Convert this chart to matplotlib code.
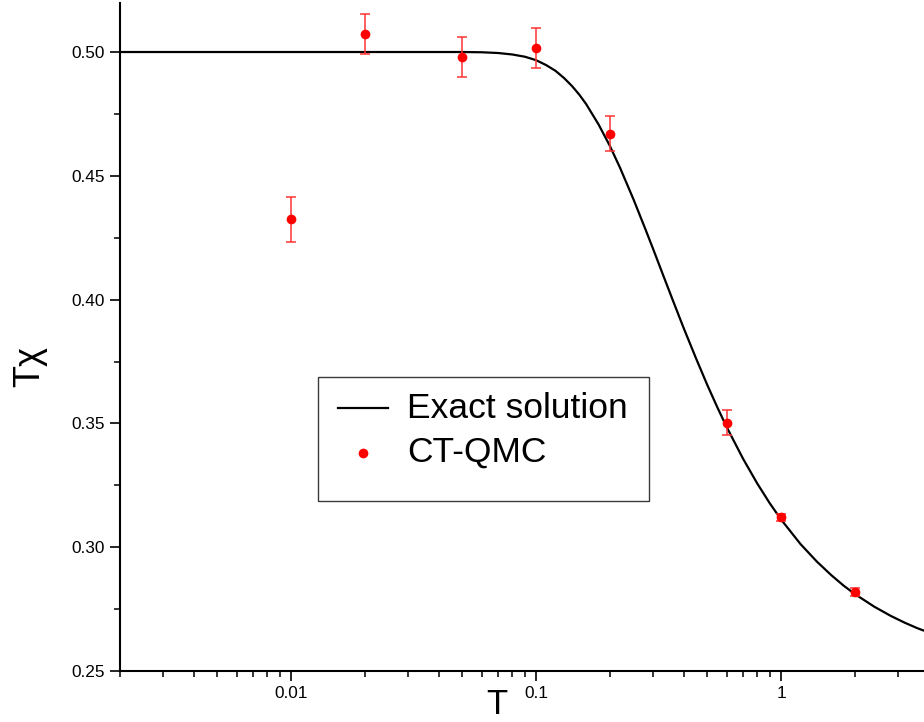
import matplotlib
matplotlib.use("Agg")
import matplotlib.pyplot as plt
from matplotlib.lines import Line2D
from matplotlib.patches import Rectangle
from matplotlib.ticker import LogLocator, FixedLocator, NullFormatter, FixedFormatter

plt.rcParams['font.family'] = ['Liberation Sans', 'DejaVu Sans']

# Exact solution curve
curve_T = [0.002, 0.01, 0.03, 0.05, 0.06, 0.07, 0.08, 0.09, 0.1, 0.11, 0.12, 0.13,
           0.14, 0.15, 0.16, 0.18, 0.2, 0.22, 0.25, 0.28, 0.3, 0.33, 0.36, 0.4,
           0.45, 0.5, 0.55, 0.6, 0.7, 0.8, 0.9, 1.0, 1.2, 1.4, 1.6, 1.8, 2.0,
           2.4, 2.8, 3.2, 3.6, 4.0]
curve_chi = [0.5000, 0.5000, 0.5000, 0.5000, 0.4999, 0.4996, 0.4990, 0.4981, 0.4967,
             0.4947, 0.4924, 0.4895, 0.4863, 0.4828, 0.4790, 0.4707, 0.4621, 0.4533,
             0.4404, 0.4282, 0.4206, 0.4099, 0.4002, 0.3886, 0.3762, 0.3655, 0.3564,
             0.3485, 0.3357, 0.3257, 0.3177, 0.3112, 0.3013, 0.2942, 0.2888, 0.2845,
             0.2811, 0.2760, 0.2723, 0.2695, 0.2673, 0.2656]

# CT-QMC data
qmc_T = [0.01, 0.02, 0.05, 0.1, 0.2, 0.6, 1.0, 2.0]
qmc_chi = [0.4324, 0.5074, 0.4981, 0.5015, 0.4670, 0.3503, 0.3121, 0.2819]
qmc_err = [0.0090, 0.0080, 0.0080, 0.0080, 0.0070, 0.0050, 0.0015, 0.0015]

xticks = [0.01, 0.1, 1]
xtick_labels = ['0.01', '0.1', '1']
yticks = [0.25, 0.30, 0.35, 0.40, 0.45, 0.50]
ytick_labels = ['0.25', '0.30', '0.35', '0.40', '0.45', '0.50']

W, H = 924, 722
fig = plt.figure(figsize=(W / 100, H / 100), dpi=100)
ax_left, ax_right, ax_bottom, ax_top = 120, 928.5, 671, 2.5
ax = fig.add_axes([ax_left / W, (H - ax_bottom) / H,
                   (ax_right - ax_left) / W, (ax_bottom - ax_top) / H])

ax.plot(curve_T, curve_chi, color='black', lw=1.6, zorder=2)
ax.errorbar(qmc_T, qmc_chi, yerr=qmc_err, fmt='none', ecolor=(1, 0.2, 0.2),
            elinewidth=1.1, capsize=3.3, capthick=1.1, zorder=3)
ax.plot(qmc_T, qmc_chi, 'o', color='red', markersize=7, markeredgewidth=0, zorder=4)

ax.set_xscale('log')
ax.set_xlim(0.002, 4)
ax.set_ylim(0.25, 0.52)

ax.xaxis.set_major_locator(FixedLocator(xticks))
ax.xaxis.set_major_formatter(FixedFormatter(xtick_labels))
ax.xaxis.set_minor_locator(LogLocator(base=10, subs=range(2, 10), numticks=20))
ax.xaxis.set_minor_formatter(NullFormatter())
ax.yaxis.set_major_locator(FixedLocator(yticks))
ax.yaxis.set_major_formatter(FixedFormatter(ytick_labels))
ax.yaxis.set_minor_locator(FixedLocator([0.275, 0.325, 0.375, 0.425, 0.475]))

for s in ['top', 'right']:
    ax.spines[s].set_visible(False)
for s in ['left', 'bottom']:
    ax.spines[s].set_linewidth(1.5)

ax.tick_params(axis='both', which='major', direction='out', length=7, width=1.2,
               labelsize=12.4, pad=4)
ax.tick_params(axis='both', which='minor', direction='out', length=4, width=1.1)

fig.text(497 / W, 1 - 705 / H, 'T', fontsize=25, ha='center', va='center')
fig.text(30 / W, 1 - 366 / H, 'Tχ', fontsize=26, ha='center', va='center', rotation=90)

# legend
fig.add_artist(Rectangle((318 / W, 1 - 501 / H), 331 / W, 124 / H,
                         transform=fig.transFigure, fill=False,
                         edgecolor='#3a3a3a', lw=1.0))
fig.add_artist(Line2D([338 / W, 388 / W], [1 - 408 / H, 1 - 408 / H],
                      transform=fig.transFigure, color='black', lw=1.6))
fig.add_artist(Line2D([363 / W], [1 - 453 / H], transform=fig.transFigure,
                      marker='o', color='red', markersize=7, markeredgewidth=0,
                      linestyle='none'))
fig.text(407 / W, 1 - 417.5 / H, 'Exact solution', fontsize=25.5, ha='left', va='baseline')
fig.text(407 / W, 1 - 461.5 / H, 'CT-QMC', fontsize=25.5, ha='left', va='baseline')

fig.savefig('out.png', dpi=100)
